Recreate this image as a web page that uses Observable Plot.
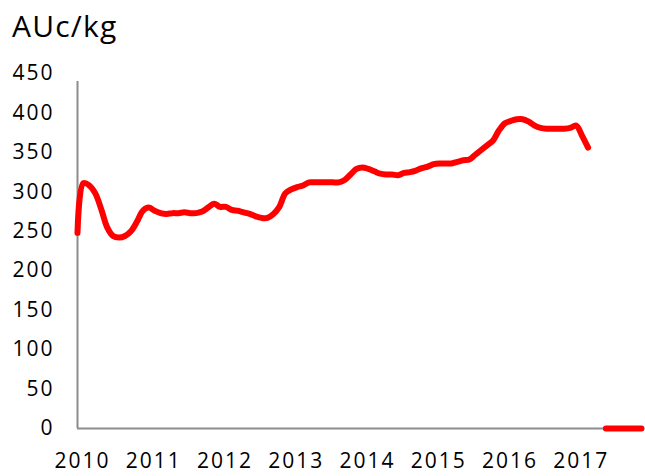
<!DOCTYPE html>
<html>
<head>
<meta charset="utf-8">
<script src="https://cdn.jsdelivr.net/npm/d3@7"></script>
<script src="https://cdn.jsdelivr.net/npm/@observablehq/plot@0.6"></script>
<style>
  html, body { margin: 0; padding: 0; background: #fff; }
  #wrap { width: 645px; height: 476px; position: relative; overflow: hidden; }
  #title { position: absolute; left: 12px; top: 5px; font-family: "Open Sans", sans-serif; font-size: 30px; letter-spacing: 1.2px; color: #000; }
  #chart { position: absolute; left: 0; top: 50px; }
  #chart svg text { letter-spacing: 2px; }
</style>
</head>
<body>
<div id="wrap">
  <div id="title">AUc/kg</div>
  <div id="chart"></div>
</div>
<script>
// Monthly series, Jan 2010 .. Dec 2017 (AUc/kg); null = no data
const startYear = 2010;
const values = [
  248, 311, 308, 298, 278, 255, 244, 242, 244, 250, 262, 276,   // 2010
  280, 276, 273, 272, 273, 273, 274, 273, 273, 275, 280, 285,   // 2011
  281, 281, 277, 276, 274, 272, 269, 267, 267, 272, 281, 298,   // 2012
  303, 306, 308, 312, 312, 312, 312, 312, 312, 315, 322, 329,   // 2013
  331, 329, 326, 323, 322, 322, 321, 324, 325, 327, 330, 332,   // 2014
  335, 336, 336, 336, 338, 340, 341, 347, 353, 359, 365, 378,   // 2015
  387, 390, 392, 392, 389, 384, 381, 380, 380, 380, 380, 381,   // 2016
  384, 371, 356, null, null, 0, 0, 0, 0, 0, 0, 0                // 2017
];
const months = values.map((_, i) => `${startYear + Math.floor(i / 12)}-${String(i % 12 + 1).padStart(2, "0")}`);
const yearLabels = ["2010", "2011", "2012", "2013", "2014", "2015", "2016", "2017"];
const yTicks = [0, 50, 100, 150, 200, 250, 300, 350, 400, 450];

const data = months.map((m, i) => ({month: m, idx: i, value: values[i]}));
const yearTickIdx = yearLabels.map(y => months.indexOf(`${y}-01`));

const chart = Plot.plot({
  width: 645,
  height: 426,
  marginLeft: 77,
  marginRight: 4,
  marginTop: 23,
  marginBottom: 48,
  style: {fontFamily: "'Open Sans', sans-serif", fontSize: "21px", color: "#000", background: "#fff"},
  x: {domain: [0, months.length - 1]},
  y: {domain: [0, 450]},
  marks: [
    Plot.axisY({ticks: yTicks, tickSize: 0, tickPadding: 23, label: null, tickFormat: d => String(d), fill: "#000"}),
    Plot.axisX({ticks: yearTickIdx, tickSize: 0, tickPadding: 25, label: null, dx: 5,
                tickFormat: (d) => yearLabels[yearTickIdx.indexOf(d)], fill: "#000"}),
    Plot.ruleX([0], {y1: 0, y2: 440, stroke: "#8c8c8c", strokeWidth: 2}),
    Plot.ruleY([0], {stroke: "#8c8c8c", strokeWidth: 2}),
    Plot.line(data, {x: "idx", y: "value", stroke: "#ff0000", strokeWidth: 6,
                     curve: "catmull-rom", strokeLinecap: "round", strokeLinejoin: "round"})
  ]
});
document.getElementById("chart").appendChild(chart);
</script>
</body>
</html>
